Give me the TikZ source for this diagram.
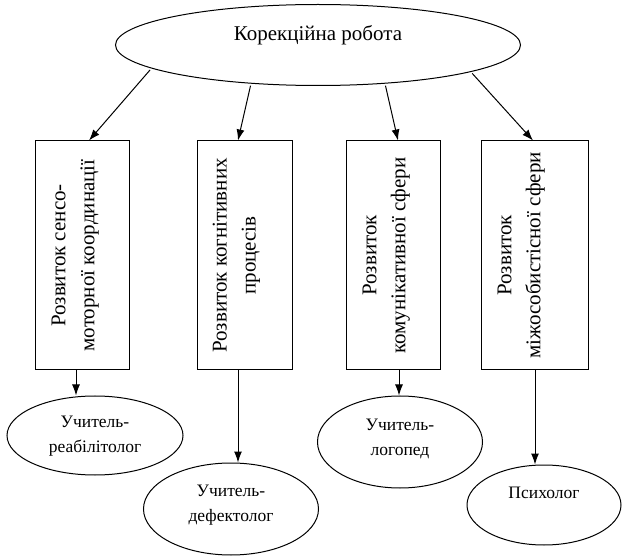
\documentclass[tikz,border=0pt]{standalone}
\usepackage{fontspec}
\setmainfont{Liberation Serif}
\usetikzlibrary{shapes.geometric,arrows.meta}
\tikzset{
  oval/.style={draw, ellipse, line width=1pt, inner sep=0pt},
  task/.style={draw, rectangle, line width=1pt, inner sep=0pt, minimum height=229pt},
  vtext/.style={rotate=90, anchor=north, align=center, inner sep=0pt, font=\fontsize{21}{29}\selectfont},
  htext/.style={align=center, inner sep=0pt, font=\fontsize{17.5}{25}\selectfont},
  link/.style={line width=1pt, -{Latex[length=11pt,width=8pt]}},
}
\begin{document}
\begin{tikzpicture}[x=1pt,y=-1pt]
\useasboundingbox (0,0) rectangle (622,556);
% Top ellipse
\node[oval, minimum width=405pt, minimum height=81pt] (top) at (318,45) {};
\node[htext, font=\fontsize{21}{29}\selectfont] (toptxt) at ([yshift=10pt]top.center) {Корекційна робота};

% Four directions
\node[task, minimum width=94pt] (box1) at (82,255.5) {};
\node[task, minimum width=95pt] (box2) at (244.5,255.5) {};
\node[task, minimum width=94pt] (box3) at (393,255.5) {};
\node[task, minimum width=107pt] (box4) at (534.5,255.5) {};
\node[vtext] (txt1) at ([xshift=17pt]box1.west) {Розвиток сенсо-\\моторної координації};
\node[vtext] (txt2) at ([xshift=16pt]box2.west) {Розвиток когнітивних\\процесів};
\node[vtext] (txt3) at ([xshift=17pt]box3.west) {Розвиток\\комунікативної сфери};
\node[vtext] (txt4) at ([xshift=17pt]box4.west) {Розвиток\\міжособистісної сфери};

% Specialists
\node[oval, minimum width=176pt, minimum height=79pt] (ell1) at (95,435.5) {};
\node[oval, minimum width=175pt, minimum height=92pt] (ell2) at (231,509) {};
\node[oval, minimum width=165pt, minimum height=92pt] (ell3) at (400,442) {};
\node[oval, minimum width=154pt, minimum height=80pt] (ell4) at (544,505) {};
\node[htext] (etxt1) at ([yshift=-1pt]ell1.center) {Учитель-\\реабілітолог};
\node[htext] (etxt2) at ([yshift=4pt]ell2.center) {Учитель-\\дефектолог};
\node[htext] (etxt3) at ([yshift=3pt]ell3.center) {Учитель-\\логопед};
\node[htext] (etxt4) at ([yshift=12pt]ell4.center) {Психолог};

% Arrows
\draw[link, shorten <=2pt] (top.188) -- ([xshift=7pt]box1.north);
\draw[link, shorten <=2pt] (top.210) -- ([xshift=-6.5pt]box2.north);
\draw[link, shorten <=2pt] (top.330) -- ([xshift=5pt]box3.north);
\draw[link, shorten <=2pt] (top.350) -- ([xshift=-1.5pt]box4.north);
\draw[link] ([xshift=-6pt]box1.south) -- ([xshift=-6pt]box1.south |- ell1.north);
\draw[link] ([xshift=-6.5pt]box2.south) -- ([xshift=-6.5pt]box2.south |- ell2.north);
\draw[link] ([xshift=6pt]box3.south) -- ([xshift=6pt]box3.south |- ell3.north);
\draw[link] ([xshift=0.5pt]box4.south) -- ([xshift=0.5pt]box4.south |- ell4.north);
\end{tikzpicture}
\end{document}
